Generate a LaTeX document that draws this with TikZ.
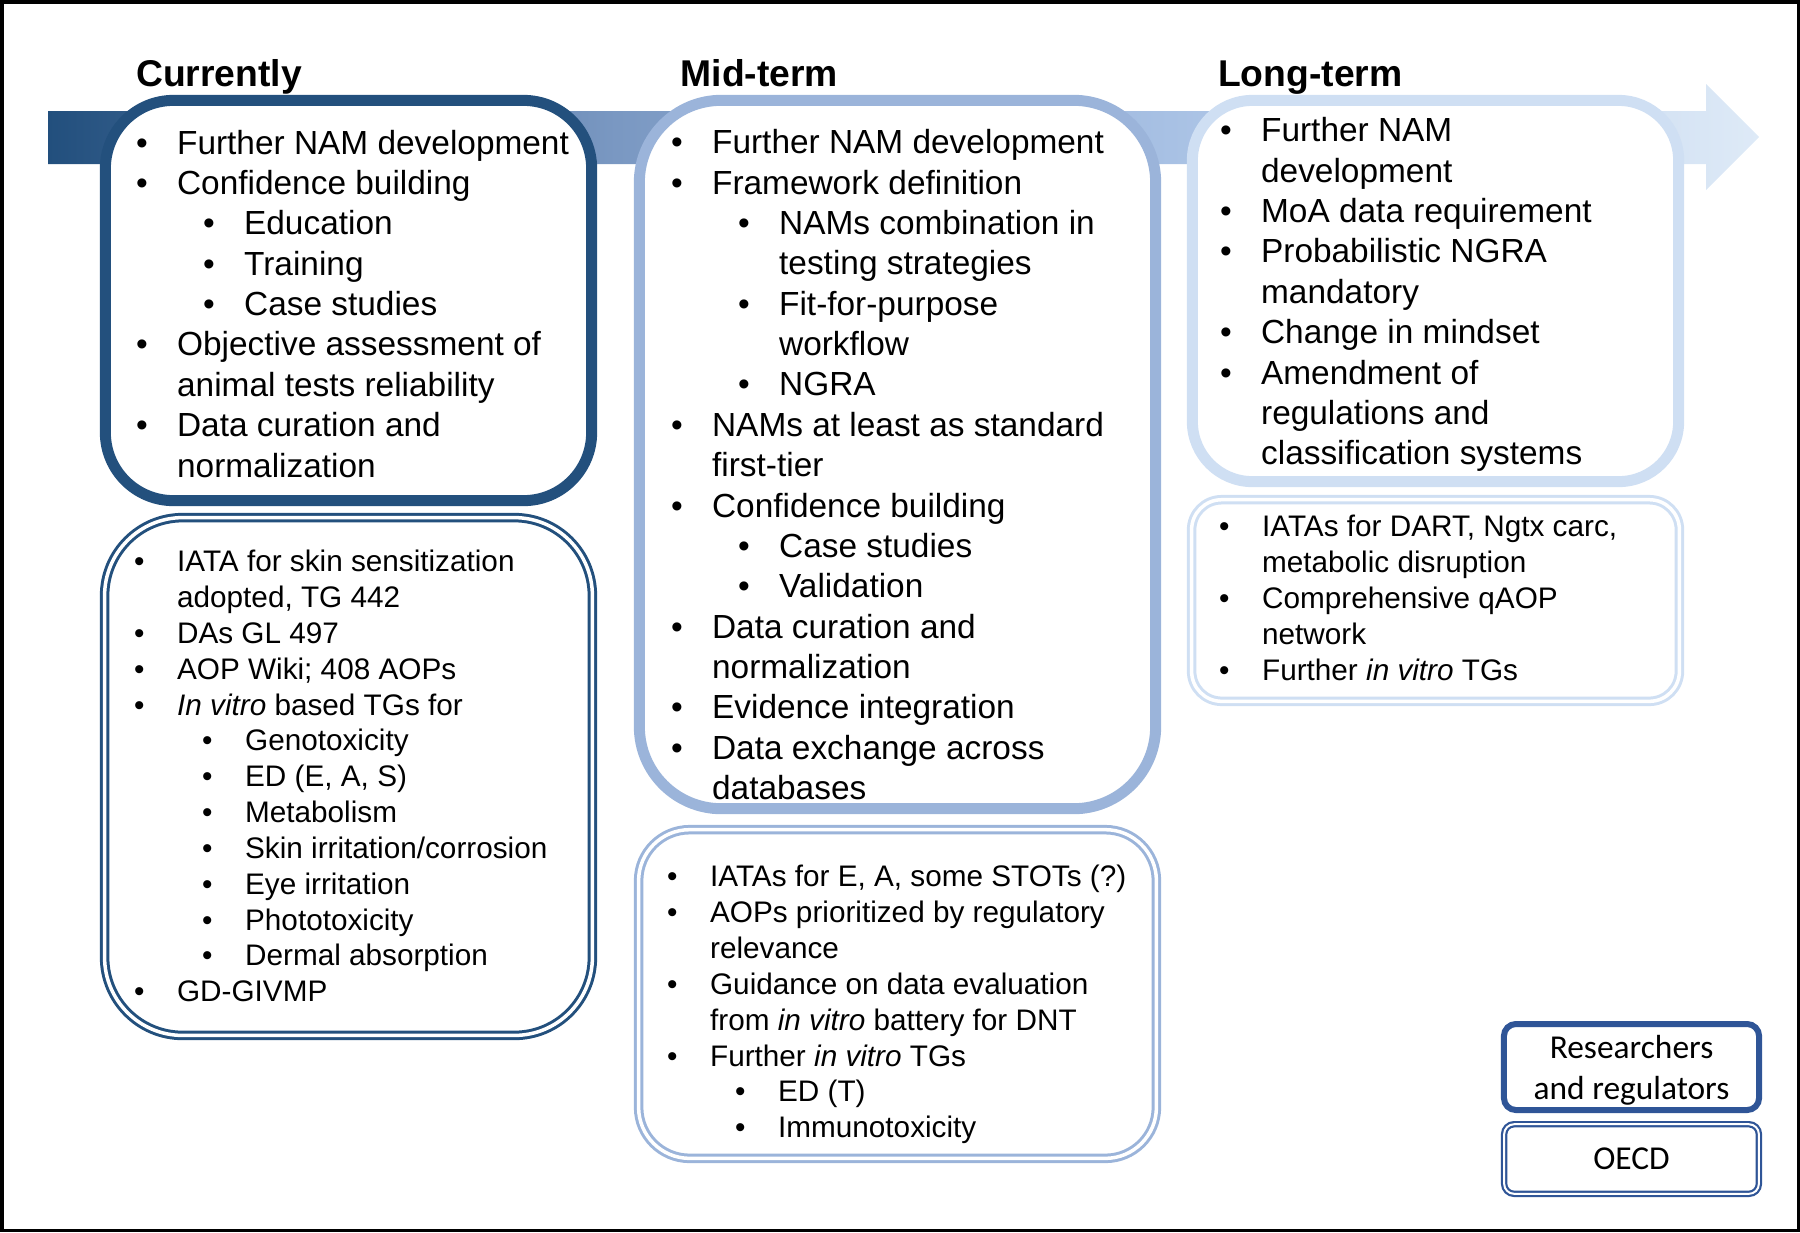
\documentclass[tikz,border=0pt]{standalone}
\usepackage{fontspec}
\setmainfont{Liberation Sans}
\newfontfamily\calibrifont{Carlito}
\usetikzlibrary{positioning}

\definecolor{nowblue}{RGB}{35,80,125}
\definecolor{midblue}{RGB}{155,180,218}
\definecolor{longblue}{RGB}{207,223,243}
\definecolor{keyblue}{RGB}{47,85,151}
\definecolor{bandA}{RGB}{34,79,125}
\definecolor{bandB}{RGB}{122,152,194}
\definecolor{bandC}{RGB}{168,193,228}
\definecolor{bandD}{RGB}{222,234,247}

\pgfdeclarehorizontalshading{bandshade}{100bp}{color(0bp)=(bandA); color(25bp)=(bandA); color(41.6bp)=(bandB); color(57.8bp)=(bandC); color(75bp)=(bandD); color(100bp)=(bandD)}

\newlength\itmgap
\newlength\subgap
\newcommand{\itm}[1]{\makebox[\itmgap][l]{\textbullet}#1}
\newcommand{\contline}[1]{\hspace*{\itmgap}#1}
\newcommand{\subitm}[1]{\hspace*{\subgap}\makebox[\itmgap][l]{\textbullet}#1}
\newcommand{\subcont}[1]{\hspace*{\subgap}\hspace*{\itmgap}#1}

\begin{document}
\begin{tikzpicture}[
    x=0.01cm, y=-0.01cm,
    % Style definitions (text nodes are placed at the baseline of their last line)
    phase/.style={font=\bfseries\fontsize{10.6}{12.7}\selectfont, anchor=base west, inner sep=0pt},
    bigbox/.style={draw, fill=white, line width=0.11cm, inner sep=0pt},
    listbox/.style={draw, fill=white, line width=0.03cm, double=white, double distance=0.035cm, inner sep=0pt},
    maintext/.style={font=\fontsize{9.5}{11.48}\selectfont, align=left, anchor=base west, inner sep=0pt,
        execute at begin node={\global\itmgap=0.41cm\global\subgap=0.67cm}},
    listtext/.style={font=\fontsize{8.45}{10.19}\selectfont, align=left, anchor=base west, inner sep=0pt,
        execute at begin node={\global\itmgap=0.43cm\global\subgap=0.68cm}},
    keybox/.style={draw=keyblue, fill=white, minimum width=2.55cm, inner sep=0pt},
    keytext/.style={font=\calibrifont\fontsize{9.5}{11.4}\selectfont, align=center, anchor=base, inner sep=0pt},
]
\useasboundingbox (0,0) rectangle (1800,1232);

%% ---------- TIME ARROW ----------
\shade[shading=bandshade] (48,111) -- (1706,111) -- (1706,84) -- (1759,137)
    -- (1706,190) -- (1706,164) -- (48,164) -- cycle;

%% ---------- PHASE TITLES ----------
\node[phase] (now_title) at (135.5,86) {Currently};
\node[phase] (mid_title) at (680,86) {Mid-term};
\node[phase] (long_title) at (1217.5,86) {Long-term};

%% ---------- RESEARCHERS AND REGULATORS BOXES ----------
\node[bigbox, draw=nowblue, minimum width=4.86cm, minimum height=4cm, rounded corners=0.68cm] (now_main) at (348.5,300.5) {};
\node[bigbox, draw=midblue, minimum width=5.16cm, minimum height=7.08cm, rounded corners=0.82cm] (mid_main) at (897.5,454.5) {};
\node[bigbox, draw=longblue, minimum width=4.86cm, minimum height=3.81cm, rounded corners=0.6cm] (long_main) at (1435.5,291) {};

%% ---------- OECD BOXES ----------
\node[listbox, draw=nowblue, minimum width=4.875cm, minimum height=5.175cm, rounded corners=0.78cm] (now_list) at (348.5,776.5) {};
\node[listbox, draw=midblue, minimum width=5.175cm, minimum height=3.285cm, rounded corners=0.51cm] (mid_list) at (897.5,994) {};
\node[listbox, draw=longblue, minimum width=4.875cm, minimum height=2.015cm, rounded corners=0.3cm] (long_list) at (1435.5,600.5) {};

%% ---------- MAIN BOX TEXTS ----------
\node[maintext] (now_main_text) at (135.4,477) {%
\itm{Further NAM development}\\
\itm{Confidence building}\\
\subitm{Education}\\
\subitm{Training}\\
\subitm{Case studies}\\
\itm{Objective assessment of}\\
\contline{animal tests reliability}\\
\itm{Data curation and}\\
\contline{normalization}};

\node[maintext] (mid_main_text) at (670.4,799.6) {%
\itm{Further NAM development}\\
\itm{Framework definition}\\
\subitm{NAMs combination in}\\
\subcont{testing strategies}\\
\subitm{Fit-for-purpose}\\
\subcont{workflow}\\
\subitm{NGRA}\\
\itm{NAMs at least as standard}\\
\contline{first-tier}\\
\itm{Confidence building}\\
\subitm{Case studies}\\
\subitm{Validation}\\
\itm{Data curation and}\\
\contline{normalization}\\
\itm{Evidence integration}\\
\itm{Data exchange across}\\
\contline{databases}};

\node[maintext] (long_main_text) at (1219.4,464.8) {%
\itm{Further NAM}\\
\contline{development}\\
\itm{MoA data requirement}\\
\itm{Probabilistic NGRA}\\
\contline{mandatory}\\
\itm{Change in mindset}\\
\itm{Amendment of}\\
\contline{regulations and}\\
\contline{classification systems}};

%% ---------- LIST BOX TEXTS ----------
\node[listtext] (now_list_text) at (133.4,1001.8) {%
\itm{IATA for skin sensitization}\\
\contline{adopted, TG 442}\\
\itm{DAs GL 497}\\
\itm{AOP Wiki; 408 AOPs}\\
\itm{\textit{In vitro} based TGs for}\\
\subitm{Genotoxicity}\\
\subitm{ED (E, A, S)}\\
\subitm{Metabolism}\\
\subitm{Skin irritation/corrosion}\\
\subitm{Eye irritation}\\
\subitm{Phototoxicity}\\
\subitm{Dermal absorption}\\
\itm{GD-GIVMP}};

\node[listtext] (mid_list_text) at (666.4,1137.7) {%
\itm{IATAs for E, A, some STOTs (?)}\\
\itm{AOPs prioritized by regulatory}\\
\contline{relevance}\\
\itm{Guidance on data evaluation}\\
\contline{from \textit{in vitro} battery for DNT}\\
\itm{Further \textit{in vitro} TGs}\\
\subitm{ED (T)}\\
\subitm{Immunotoxicity}};

\node[listtext] (long_list_text) at (1218.4,680.3) {%
\itm{IATAs for DART, Ngtx carc,}\\
\contline{metabolic disruption}\\
\itm{Comprehensive qAOP}\\
\contline{network}\\
\itm{Further \textit{in vitro} TGs}};

%% ---------- LEGEND ----------
\node[keybox, line width=0.06cm, minimum height=0.86cm, rounded corners=0.12cm] (res_key) at (1631.5,1067) {};
\node[keytext] (res_key_text) at (1631.5,1099) {Researchers\\and regulators};
\node[keybox, line width=0.022cm, double=white, double distance=0.02cm, minimum width=2.546cm, minimum height=0.696cm, rounded corners=0.1cm] (oecd_key) at (1631.5,1159) {};
\node[keytext] (oecd_key_text) at (1631.5,1169) {OECD};

%% ---------- FRAME ----------
\draw[line width=0.035cm] (1.75,1.75) rectangle (1798.25,1230.25);

\end{tikzpicture}
\end{document}
